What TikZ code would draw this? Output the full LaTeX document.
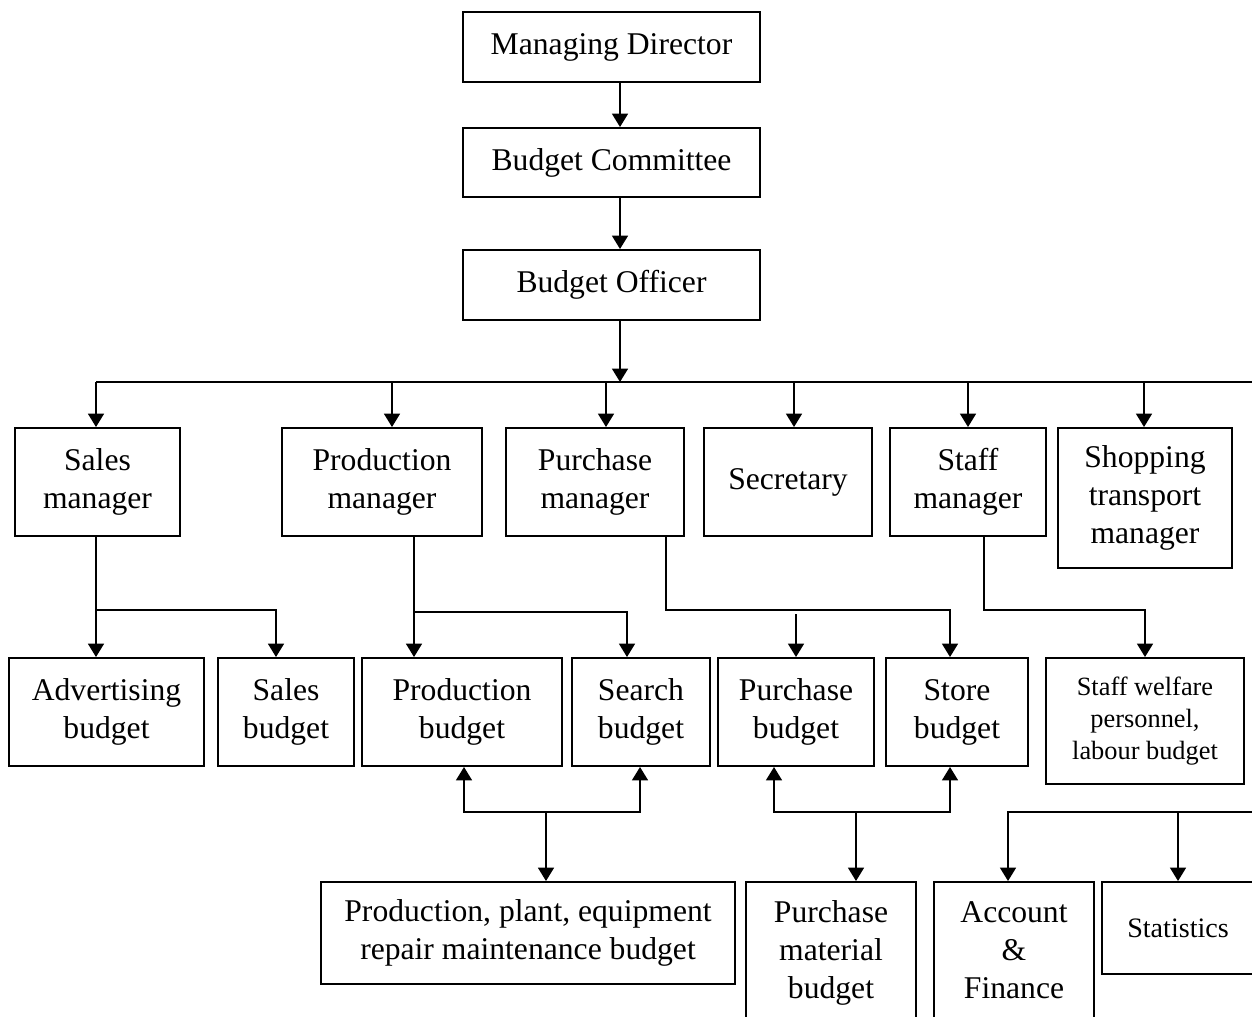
\documentclass[tikz,border=0pt]{standalone}
\usepackage{fontspec}
\setmainfont{Liberation Serif}
\usetikzlibrary{arrows.meta}

\begin{document}
\begin{tikzpicture}[
    box/.style={draw, line width=1.1pt, align=center, inner sep=2pt,
      font=\fontsize{18}{21.6}\selectfont, minimum height=2.16cm},
    smalltext/.style={font=\fontsize{15}{18}\selectfont},
    arr/.style={-{Triangle[length=7.6pt,width=9pt]}, line width=1.1pt},
    link/.style={line width=1.1pt}]
        \useasboundingbox (0,0) rectangle (25.04,-20.32);
        % top of the chart
        \node[box, minimum width=5.94cm, minimum height=1.40cm] (md) at (12.23,-0.94) {Managing Director};
        \node[box, minimum width=5.94cm, minimum height=1.38cm] (bc) at (12.23,-3.25) {Budget Committee};
        \node[box, minimum width=5.94cm, minimum height=1.40cm] (bo) at (12.23,-5.70) {Budget Officer};
        \draw[arr] ([xshift=0.17cm]md.south) -- ([xshift=0.17cm]bc.north);
        \draw[arr] ([xshift=0.17cm]bc.south) -- ([xshift=0.17cm]bo.north);
        % managers
        \node[box, minimum width=3.30cm] (sm) at (1.95,-9.64) {Sales\\manager};
        \node[box, minimum width=4.00cm] (pm) at (7.64,-9.64) {Production\\manager};
        \node[box, minimum width=3.56cm] (pum) at (11.90,-9.64) {Purchase\\manager};
        \node[box, minimum width=3.36cm] (sec) at (15.76,-9.64) {Secretary};
        \node[box, minimum width=3.12cm] (stm) at (19.36,-9.64) {Staff\\manager};
        \node[box, minimum width=3.48cm, minimum height=2.80cm] (stp) at (22.90,-9.96) {Shopping\\transport\\manager};
        \coordinate (bus) at (12.40,-7.64);
        \coordinate (busR) at (25.10,-7.64);
        \draw[arr] ([xshift=0.17cm]bo.south) -- (bus);
        \draw[link] ([xshift=-0.03cm]sm.north |- bus) -- (busR);
        \foreach \n/\s in {sm/-0.03, pm/0.2, pum/0.22, sec/0.12, stm/0, stp/-0.02}
            \draw[arr] ([xshift=\s cm]\n.north |- bus) -- ([xshift=\s cm]\n.north);
        % budgets
        \node[box, minimum width=3.90cm] (adb) at (2.13,-14.24) {Advertising\\budget};
        \node[box, minimum width=2.72cm] (slb) at (5.72,-14.24) {Sales\\budget};
        \node[box, minimum width=4.00cm] (prb) at (9.24,-14.24) {Production\\budget};
        \node[box, minimum width=2.76cm] (seb) at (12.82,-14.24) {Search\\budget};
        \node[box, minimum width=3.12cm] (pub) at (15.92,-14.24) {Purchase\\budget};
        \node[box, minimum width=2.84cm] (stb) at (19.14,-14.24) {Store\\budget};
        \node[box, smalltext, minimum width=3.96cm, minimum height=2.52cm] (swb) at (22.90,-14.42) {Staff welfare\\personnel,\\labour budget};
        \coordinate (sj) at (1.92,-12.20);
        \draw[arr] (sm.south -| sj) -- (adb.north -| sj);
        \draw[arr] (sj) -| ([xshift=-0.2cm]slb.north);
        \coordinate (pj) at (8.28,-12.24);
        \draw[arr] (pm.south -| pj) -- (prb.north -| pj);
        \draw[arr] (pj) -| ([xshift=-0.28cm]seb.north);
        \coordinate (uj) at (13.32,-12.20);
        \draw[arr] (pum.south -| uj) -- (uj) -| ([xshift=-0.14cm]stb.north);
        \draw[arr] ([yshift=-0.08cm]uj -| pub.north) -- (pub.north);
        \coordinate (tj) at (19.68,-12.20);
        \draw[arr] (stm.south -| tj) -- (tj) -| (swb.north);
        % bottom row
        \node[box, minimum width=8.28cm, minimum height=2.04cm] (ppe) at (10.56,-18.66) {Production, plant, equipment\\repair maintenance budget};
        \node[box, minimum width=3.40cm, minimum height=2.82cm] (pmb) at (16.62,-19.05) {Purchase\\material\\budget};
        \node[box, minimum width=3.20cm, minimum height=2.72cm] (acf) at (20.28,-19.00) {Account\\\&\\Finance};
        \node[box, minimum width=3.04cm, minimum height=1.84cm, font=\fontsize{16}{19.2}\selectfont] (sta) at (23.56,-18.56) {Statistics};
        \coordinate (bj) at (10.92,-16.24);
        \draw[arr] (bj) -- (ppe.north -| bj);
        \draw[arr] (bj) -| ([xshift=0.04cm]prb.south);
        \draw[arr] (bj) -| ([xshift=-0.02cm]seb.south);
        \coordinate (mj) at (17.12,-16.24);
        \draw[arr] (mj) -- (pmb.north -| mj);
        \draw[arr] (mj) -| ([xshift=-0.44cm]pub.south);
        \draw[arr] (mj) -| ([xshift=-0.14cm]stb.south);
        \coordinate (aj) at (25.10,-16.24);
        \draw[arr] (aj) -| ([xshift=-0.12cm]acf.north);
        \draw[arr] (aj -| sta.north) -- (sta.north);
\end{tikzpicture}
\end{document}
